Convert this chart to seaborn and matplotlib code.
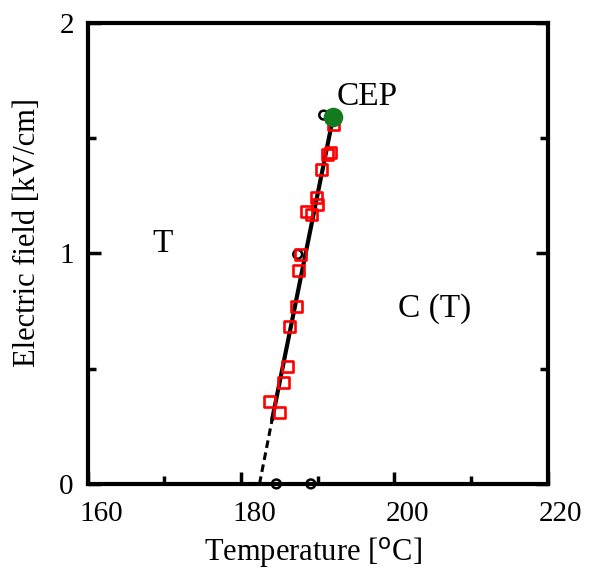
import numpy as np
import pandas as pd
import matplotlib
matplotlib.use("Agg")
import matplotlib.pyplot as plt
import matplotlib.transforms as mtransforms
from matplotlib.ticker import MultipleLocator
import seaborn as sns

# data
red_T = [192.07, 191.68, 191.29, 190.51, 189.86, 189.99, 188.55, 189.20,
         187.77, 187.51, 187.25, 186.34, 186.08, 185.55, 183.73, 185.03]
red_E = [1.557, 1.439, 1.430, 1.365, 1.243, 1.213, 1.183, 1.170,
         0.996, 0.926, 0.770, 0.683, 0.509, 0.439, 0.357, 0.309]

black_T = [190.77, 187.38, 184.6, 189.1]
black_E = [1.60, 0.996, 0.0, 0.0]

cep_T = [192.0]
cep_E = [1.59]

solid_T = [184.05, 192.0]
solid_E = [0.28, 1.59]
dash_T = [182.4, 184.05]
dash_E = [0.0, 0.28]

sns.set_style("white")
plt.rcParams['font.family'] = ['Liberation Serif', 'DejaVu Serif']
plt.rcParams['text.color'] = 'black'
plt.rcParams['axes.labelcolor'] = 'black'
plt.rcParams['xtick.color'] = 'black'
plt.rcParams['ytick.color'] = 'black'

fig = plt.figure(figsize=(5.89, 5.72), dpi=100)
ax = fig.add_axes([0.149, 0.154, 0.781, 0.806])

sns.lineplot(x=solid_T, y=solid_E, ax=ax, color='black', lw=3,
             sort=False, estimator=None)
sns.lineplot(x=dash_T, y=dash_E, ax=ax, color='black', lw=2.2,
             linestyle=(0, (2.5, 1.5)), sort=False, estimator=None)
sns.scatterplot(x=black_T, y=black_E, ax=ax, marker='o', s=40,
                facecolors='none', edgecolor='black', linewidth=1.8, zorder=3,
                clip_on=False)
sns.scatterplot(x=red_T, y=red_E, ax=ax, marker='s', s=60,
                facecolors='none', edgecolor='red', linewidth=1.9, zorder=4)
sns.scatterplot(x=cep_T, y=cep_E, ax=ax, marker='o', s=170,
                color='#137a1f', edgecolor='#137a1f', zorder=5)

ax.text(196.5, 1.68, 'CEP', fontsize=24, ha='center', va='center')
ax.text(169.8, 1.04, 'T', fontsize=24, ha='center', va='center')
ax.text(205.2, 0.76, 'C (T)', fontsize=24, ha='center', va='center')

ax.set_xlim(160, 220)
ax.set_ylim(0, 2)
ax.xaxis.set_major_locator(MultipleLocator(20))
ax.xaxis.set_minor_locator(MultipleLocator(10))
ax.yaxis.set_major_locator(MultipleLocator(1))
ax.yaxis.set_minor_locator(MultipleLocator(0.5))
ax.tick_params(which='both', direction='in', bottom=True, left=True,
               right=True, top=False, width=2.5, labelsize=21,
               color='black', labelcolor='black')
ax.tick_params(which='major', length=9, pad=10)
ax.tick_params(which='minor', length=6)
ax.tick_params(axis='x', which='major', pad=12)

for s in ax.spines.values():
    s.set_linewidth(3)
    s.set_color('black')

# x tick labels sit a little to the right of their ticks
offset = mtransforms.ScaledTranslation(0.13, 0, fig.dpi_scale_trans)
for lab in ax.get_xticklabels():
    lab.set_transform(lab.get_transform() + offset)

ax.set_xlabel('Temperature [$^{\\rm o}$C]', fontsize=22)
ax.set_ylabel('Electric field [kV/cm]', fontsize=22)
ax.yaxis.set_label_coords(-0.10, 0.545)
ax.xaxis.set_label_coords(0.49, -0.11)

fig.savefig('out.png', dpi=100)
